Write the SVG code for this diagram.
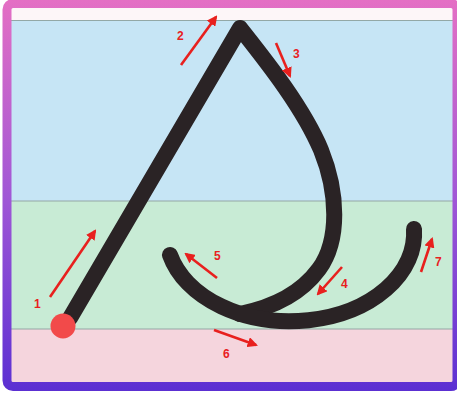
<svg xmlns="http://www.w3.org/2000/svg" width="457" height="394" viewBox="0 0 457 394">
<defs>
<linearGradient id="fr" x1="0" y1="0" x2="0" y2="394" gradientUnits="userSpaceOnUse">
<stop offset="0" stop-color="#e46fc4"/>
<stop offset="0.5" stop-color="#a057d6"/>
<stop offset="1" stop-color="#5a2fd2"/>
</linearGradient>
<marker id="ah" viewBox="0 0 10 10" refX="8" refY="5" markerWidth="4" markerHeight="4" orient="auto" markerUnits="strokeWidth">
<path d="M0,0 L10,5 L0,10 z" fill="#e8201e"/>
</marker>
<style>
.ink{fill:none;stroke:#2a2325;stroke-width:16;stroke-linecap:round;stroke-linejoin:round}
.arr{fill:none;stroke:#e8201e;stroke-width:2.6;marker-end:url(#ah)}
.lbl{font-family:"Liberation Sans",Arial,sans-serif;font-size:12px;font-weight:bold;fill:#e8201e}
.div{stroke:#93a8a6;stroke-width:1.2}
</style>
</defs>
<rect x="0" y="0" width="457" height="394" fill="#ffffff"/>
<g id="bands">
<rect x="8" y="6" width="447" height="15" fill="#fdf6f8"/>
<rect x="8" y="20" width="447" height="181" fill="#c6e5f5"/>
<rect x="8" y="201" width="447" height="128" fill="#c8ebd5"/>
<rect x="8" y="329" width="447" height="56" fill="#f5d5dd"/>
<line class="div" x1="8" y1="20.5" x2="455" y2="20.5" stroke="#b4cfd6"/>
<line class="div" x1="8" y1="201" x2="455" y2="201"/>
<line class="div" x1="8" y1="329" x2="455" y2="329"/>
</g>
<rect id="frame" x="7" y="3.5" width="450" height="383" rx="6" fill="none" stroke="url(#fr)" stroke-width="9"/>
<g id="letter">
<path class="ink" d="M70,318 L240,28 C262,56 302,105 321,150 C338,192 340,240 319,269 C300,295 270,308 240,314"/>
<path class="ink" d="M170,255 A124,88 0 0 0 414,229"/>
<circle cx="63" cy="326" r="12.5" fill="#f24a4a"/>
</g>
<g id="arrows">
<line class="arr" x1="50" y1="297" x2="95" y2="231"/>
<line class="arr" x1="181" y1="65" x2="216" y2="17"/>
<line class="arr" x1="276" y1="43" x2="290" y2="76"/>
<line class="arr" x1="342" y1="267" x2="318" y2="294"/>
<line class="arr" x1="217" y1="278" x2="186" y2="254"/>
<line class="arr" x1="214" y1="330" x2="256" y2="345"/>
<line class="arr" x1="421" y1="272" x2="432" y2="239"/>
</g>
<g id="labels">
<text class="lbl" x="34" y="308">1</text>
<text class="lbl" x="177" y="40" font-size="13">2</text>
<text class="lbl" x="293" y="58">3</text>
<text class="lbl" x="341" y="288">4</text>
<text class="lbl" x="214" y="260">5</text>
<text class="lbl" x="223" y="358">6</text>
<text class="lbl" x="435" y="266">7</text>
</g>
</svg>
